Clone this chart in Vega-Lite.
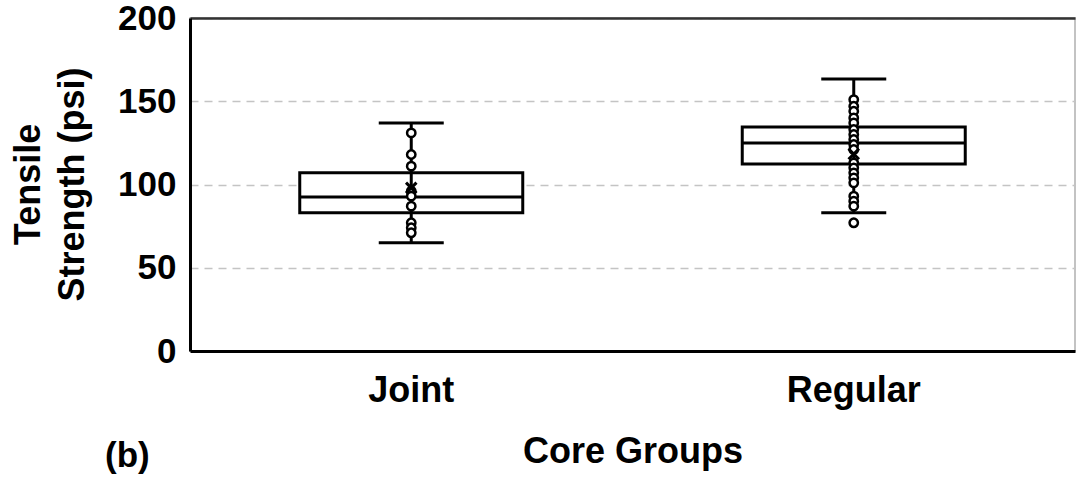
{
  "$schema": "https://vega.github.io/schema/vega-lite/v6.json",
  "autosize": {"type": "none"},
  "width": 885,
  "height": 333,
  "padding": {"left": 190, "top": 18, "right": 1, "bottom": 140},
  "background": "white",
  "config": {
    "font": "Liberation Sans",
    "view": {"stroke": "#b0b0b0", "strokeWidth": 1.5},
    "axis": {"labelFont": "Liberation Sans", "titleFont": "Liberation Sans", "labelFontWeight": "bold", "titleFontWeight": "bold", "labelColor": "black", "titleColor": "black"},
    "axisY": {"labelFontSize": 35, "titleFontSize": 36, "titleLineHeight": 44, "ticks": false, "labelPadding": 14, "domainColor": "black", "domainWidth": 3, "grid": true, "gridColor": "#c4c4c4", "gridWidth": 1.5, "gridDash": [8, 6], "titleX": -162, "titleY": 166, "titleAlign": "center", "titleBaseline": "middle", "titleAngle": -90, "tickCount": 5}
  },
  "title": {"text": "(b)", "orient": "bottom", "anchor": "start", "frame": "group", "dx": -85, "dy": -30, "offset": 0, "fontSize": 35, "fontWeight": "bold", "color": "black", "font": "Liberation Sans"},
  "datasets": {
    "boxes": [
      {"group": "Joint", "lower": 65, "q1": 83, "median": 92.5, "q3": 107, "upper": 137, "mean": 98},
      {"group": "Regular", "lower": 83, "q1": 112.3, "median": 125, "q3": 134.5, "upper": 163.4, "mean": 118.3}
    ],
    "points": [
      {"group": "Joint", "value": 131},
      {"group": "Joint", "value": 118},
      {"group": "Joint", "value": 111},
      {"group": "Joint", "value": 96},
      {"group": "Joint", "value": 93},
      {"group": "Joint", "value": 87},
      {"group": "Joint", "value": 77},
      {"group": "Joint", "value": 74},
      {"group": "Joint", "value": 71},
      {"group": "Regular", "value": 151},
      {"group": "Regular", "value": 147},
      {"group": "Regular", "value": 144},
      {"group": "Regular", "value": 140},
      {"group": "Regular", "value": 137},
      {"group": "Regular", "value": 133},
      {"group": "Regular", "value": 130},
      {"group": "Regular", "value": 127},
      {"group": "Regular", "value": 124},
      {"group": "Regular", "value": 121},
      {"group": "Regular", "value": 113},
      {"group": "Regular", "value": 110},
      {"group": "Regular", "value": 107},
      {"group": "Regular", "value": 104},
      {"group": "Regular", "value": 101},
      {"group": "Regular", "value": 93},
      {"group": "Regular", "value": 90},
      {"group": "Regular", "value": 87},
      {"group": "Regular", "value": 77}
    ]
  },
  "resolve": {"axis": {"x": "independent"}},
  "layer": [
    {
      "data": {"name": "boxes"},
      "mark": {"type": "bar", "fill": "white", "stroke": "black", "strokeWidth": 3, "size": 223, "opacity": 1},
      "encoding": {
        "x": {"field": "group", "type": "nominal", "scale": {"paddingInner": 0, "paddingOuter": 0},
          "axis": {"orient": "bottom", "title": "Core Groups", "labelAngle": 0, "labelFontSize": 36, "titleFontSize": 36, "ticks": false, "domainColor": "black", "domainWidth": 3, "labelPadding": 22, "titleBaseline": "alphabetic", "titleY": 111, "grid": false}},
        "y": {"field": "q1", "type": "quantitative", "title": ["Tensile", "Strength (psi)"], "scale": {"domain": [0, 200], "nice": false}},
        "y2": {"field": "q3"}
      }
    },
    {
      "data": {"name": "boxes"},
      "mark": {"type": "rule", "color": "black", "strokeWidth": 3, "opacity": 1},
      "encoding": {
        "x": {"field": "group", "type": "nominal", "axis": {"orient": "top", "labels": false, "ticks": false, "title": null, "grid": false, "domainColor": "#333333", "domainWidth": 2.5}},
        "y": {"field": "lower", "type": "quantitative", "title": ["Tensile", "Strength (psi)"], "scale": {"domain": [0, 200], "nice": false}},
        "y2": {"field": "upper"}
      }
    },
    {
      "data": {"name": "boxes"},
      "mark": {"type": "tick", "color": "black", "thickness": 3, "size": 223, "opacity": 1},
      "encoding": {
        "x": {"field": "group", "type": "nominal", "axis": null},
        "y": {"field": "median", "type": "quantitative", "title": ["Tensile", "Strength (psi)"], "scale": {"domain": [0, 200], "nice": false}}
      }
    },
    {
      "data": {"name": "boxes"},
      "mark": {"type": "tick", "color": "black", "thickness": 3, "size": 65, "opacity": 1},
      "encoding": {
        "x": {"field": "group", "type": "nominal", "axis": null},
        "y": {"field": "upper", "type": "quantitative", "title": ["Tensile", "Strength (psi)"], "scale": {"domain": [0, 200], "nice": false}}
      }
    },
    {
      "data": {"name": "boxes"},
      "mark": {"type": "tick", "color": "black", "thickness": 3, "size": 65, "opacity": 1},
      "encoding": {
        "x": {"field": "group", "type": "nominal", "axis": null},
        "y": {"field": "lower", "type": "quantitative", "title": ["Tensile", "Strength (psi)"], "scale": {"domain": [0, 200], "nice": false}}
      }
    },
    {
      "data": {"name": "points"},
      "mark": {"type": "point", "shape": "circle", "filled": true, "fill": "white", "stroke": "black", "strokeWidth": 2.5, "size": 70, "opacity": 1},
      "encoding": {
        "x": {"field": "group", "type": "nominal", "axis": null},
        "y": {"field": "value", "type": "quantitative", "title": ["Tensile", "Strength (psi)"], "scale": {"domain": [0, 200], "nice": false}}
      }
    },
    {
      "data": {"name": "boxes"},
      "mark": {"type": "point", "shape": "M-1,-1L1,1M-1,1L1,-1", "filled": false, "stroke": "black", "strokeWidth": 3, "size": 110, "opacity": 1},
      "encoding": {
        "x": {"field": "group", "type": "nominal", "axis": null},
        "y": {"field": "mean", "type": "quantitative", "title": ["Tensile", "Strength (psi)"], "scale": {"domain": [0, 200], "nice": false}}
      }
    }
  ]
}
